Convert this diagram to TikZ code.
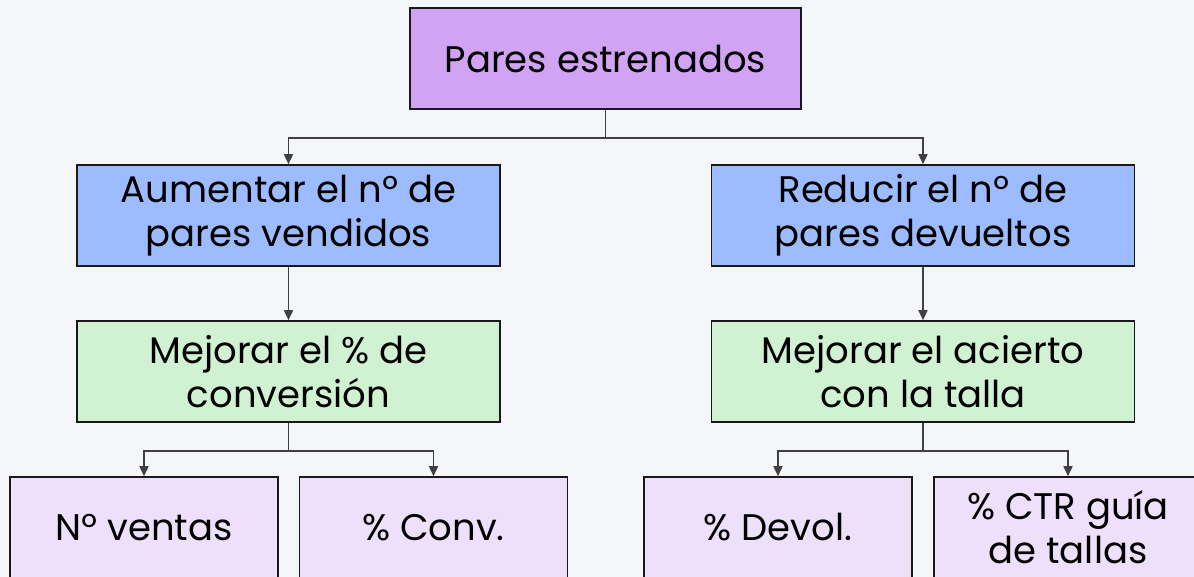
\documentclass[tikz,border=0pt]{standalone}
\usepackage{fontspec}
\setmainfont{Poppins}
\usetikzlibrary{arrows.meta}
\definecolor{bgc}{RGB}{245,246,250}
\definecolor{topc}{RGB}{209,163,243}
\definecolor{bluec}{RGB}{157,187,255}
\definecolor{greenc}{RGB}{208,241,210}
\definecolor{lavc}{RGB}{238,224,250}
\definecolor{linec}{RGB}{64,64,64}
\tikzset{
  box/.style={draw=black!90, line width=1.6pt, rectangle, align=center,
    font=\fontsize{37}{44}\selectfont, inner sep=0pt},
  wide/.style={box, minimum width=423pt, minimum height=101pt},
  small/.style={box, fill=lavc, minimum width=268pt, minimum height=101pt},
  conn/.style={draw=linec, line width=1.6pt, -{Triangle[length=10pt,width=9pt]}},
}
\begin{document}
\begin{tikzpicture}[x=1pt,y=-1pt]
\useasboundingbox (0,0) rectangle (1194,577);
\fill[bgc] (0,0) rectangle (1194,577);
\node[box, fill=topc, minimum width=391pt, minimum height=101pt] (top) at (605.5,58.5) {Pares estrenados};
\node[wide, fill=bluec] (la) at (288.5,215.5) {Aumentar el nº de\\pares vendidos};
\node[wide, fill=bluec] (ra) at (923,215.5) {Reducir el nº de\\pares devueltos};
\node[wide, fill=greenc] (lb) at (288.5,371.5) {Mejorar el \% de\\conversión};
\node[wide, fill=greenc] (rb) at (923,371.5) {Mejorar el acierto\\con la talla};
\node[small] (c1) at (144,527.5) {Nº ventas};
\node[small] (c2) at (433.5,527.5) {\% Conv.};
\node[small] (c3) at (778,527.5) {\% Devol.};
\node[small] (c4) at (1068,527.5) {\% CTR guía\\de tallas};
\draw[conn] (top.south) -- ++(0,28) -| (la.north);
\draw[conn] (top.south) -- ++(0,28) -| (ra.north);
\draw[conn] (la.south) -- (lb.north);
\draw[conn] (ra.south) -- (rb.north);
\draw[conn] (lb.south) -- ++(0,28) -| (c1.north);
\draw[conn] (lb.south) -- ++(0,28) -| (c2.north);
\draw[conn] (rb.south) -- ++(0,28) -| (c3.north);
\draw[conn] (rb.south) -- ++(0,28) -| (c4.north);
\end{tikzpicture}
\end{document}
